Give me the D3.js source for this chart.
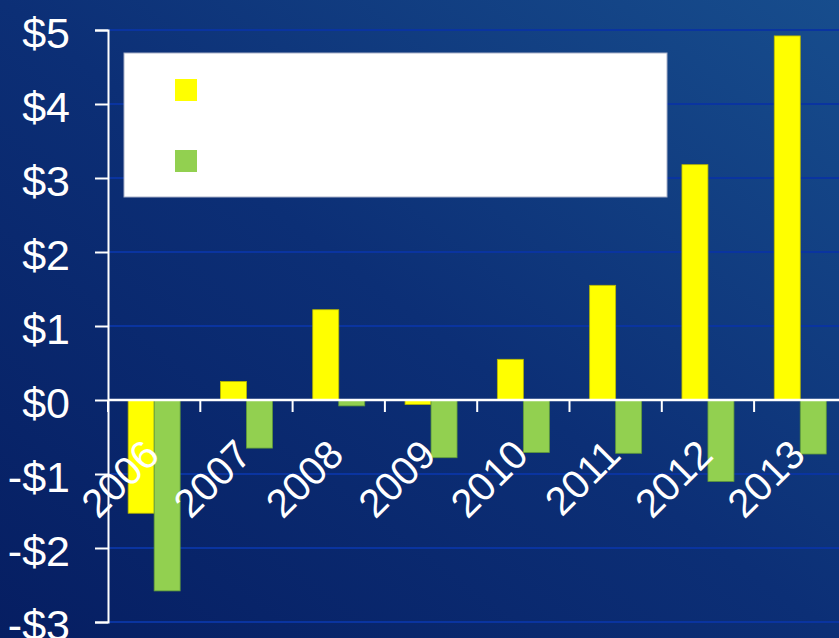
<!DOCTYPE html>
<html>
<head>
<meta charset="utf-8">
<script src="https://cdn.jsdelivr.net/npm/d3@7"></script>
<style>
  html, body { margin: 0; padding: 0; background: #0b2b72; }
  svg { display: block; }
</style>
</head>
<body>
<svg id="chart" width="839" height="638"></svg>
<script>
const years = ["2006","2007","2008","2009","2010","2011","2012","2013"];
const seriesA = [-1.53, 0.25, 1.22, -0.06, 0.55, 1.55, 3.18, 4.92];
const seriesB = [-2.58, -0.65, -0.08, -0.78, -0.71, -0.72, -1.10, -0.73];
const yTicks = [-3, -2, -1, 0, 1, 2, 3, 4, 5];
const yTickLabels = ["-$3","-$2","-$1","$0","$1","$2","$3","$4","$5"];
const seriesKeys = ["a","b"];
const seriesColors = {a: "#ffff00", b: "#92d050"};
const seriesStroke = {a: "#b8b800", b: "#5f9a3a"};

(function () {
const W = 839, H = 638;
const svg = d3.select("#chart");

// background gradient
const defs = svg.append("defs");
const g = defs.append("linearGradient").attr("id","bg")
  .attr("x1","0%").attr("y1","100%").attr("x2","100%").attr("y2","0%");
g.append("stop").attr("offset","0%").attr("stop-color","#061e62");
g.append("stop").attr("offset","50%").attr("stop-color","#0c2f76");
g.append("stop").attr("offset","100%").attr("stop-color","#174d8d");
svg.append("rect").attr("width",W).attr("height",H).attr("fill","url(#bg)");

const mLeft = 108, mRight = 846.4, mTop = 30, mBottom = 622;
const x = d3.scaleBand().domain(years).range([mLeft, mRight]).paddingInner(0).paddingOuter(0);
const x1 = d3.scaleBand().domain(seriesKeys).range([0, x.bandwidth()]).paddingInner(0).paddingOuter(0.775);
const y = d3.scaleLinear().domain([-3, 5]).range([mBottom, mTop]);

// gridlines
svg.append("g").selectAll("line").data(yTicks.filter(t => t !== 0)).join("line")
  .attr("x1", mLeft).attr("x2", W)
  .attr("y1", d => y(d)).attr("y2", d => y(d))
  .attr("stroke", "#0a34a0").attr("stroke-width", 2);

// bars
const data = years.map((yr, i) => ({year: yr, a: seriesA[i], b: seriesB[i]}));
const groups = svg.append("g").selectAll("g").data(data).join("g")
  .attr("transform", d => `translate(${x(d.year)},0)`);
groups.selectAll("rect").data(d => seriesKeys.map(k => ({key: k, value: d[k]}))).join("rect")
  .attr("x", d => x1(d.key))
  .attr("width", x1.bandwidth())
  .attr("y", d => y(Math.max(0, d.value)))
  .attr("height", d => Math.abs(y(d.value) - y(0)))
  .attr("fill", d => seriesColors[d.key])
  .attr("stroke", d => seriesStroke[d.key])
  .attr("stroke-width", 0.8);

// y axis
const yAxis = d3.axisLeft(y).tickValues(yTicks).tickSize(13).tickPadding(25)
  .tickFormat((d, i) => yTickLabels[i]);
const ya = svg.append("g").attr("transform", `translate(${mLeft},0)`).call(yAxis);
ya.select(".domain").attr("stroke", "#ffffff").attr("stroke-width", 2);
ya.selectAll(".tick line").attr("stroke", "#ffffff").attr("stroke-width", 2);
ya.selectAll(".tick text")
  .attr("fill", "#ffffff")
  .attr("font-family", "Liberation Sans, Arial, sans-serif")
  .attr("font-size", 43)
  .attr("dy", "0.4em");

// zero line
svg.append("line").attr("x1", mLeft).attr("x2", W).attr("y1", y(0)).attr("y2", y(0))
  .attr("stroke", "#ffffff").attr("stroke-width", 2.5);

// x ticks at category boundaries
const boundaries = years.map(yr => x(yr));
svg.append("g").selectAll("line").data(boundaries).join("line")
  .attr("x1", d => d).attr("x2", d => d)
  .attr("y1", y(0)).attr("y2", y(0) + 12)
  .attr("stroke", "#ffffff").attr("stroke-width", 2);

// x labels
svg.append("g").selectAll("text").data(years).join("text")
  .attr("transform", d => `translate(${x(d) + x.bandwidth()/2 + 7},457) rotate(-45)`)
  .attr("text-anchor", "end")
  .attr("fill", "#ffffff")
  .attr("font-family", "Liberation Sans, Arial, sans-serif")
  .attr("font-size", 40)
  .text(d => d);

// legend
const legend = svg.append("g");
legend.append("rect").attr("x", 124).attr("y", 53).attr("width", 543).attr("height", 144)
  .attr("fill", "#ffffff").attr("stroke", "#a8b0c8").attr("stroke-width", 1);
legend.selectAll("rect.sw").data(seriesKeys).join("rect").attr("class","sw")
  .attr("x", 175).attr("y", (d, i) => 79 + i * 71)
  .attr("width", 22).attr("height", 22)
  .attr("fill", d => seriesColors[d]);
})();
</script>
</body>
</html>
